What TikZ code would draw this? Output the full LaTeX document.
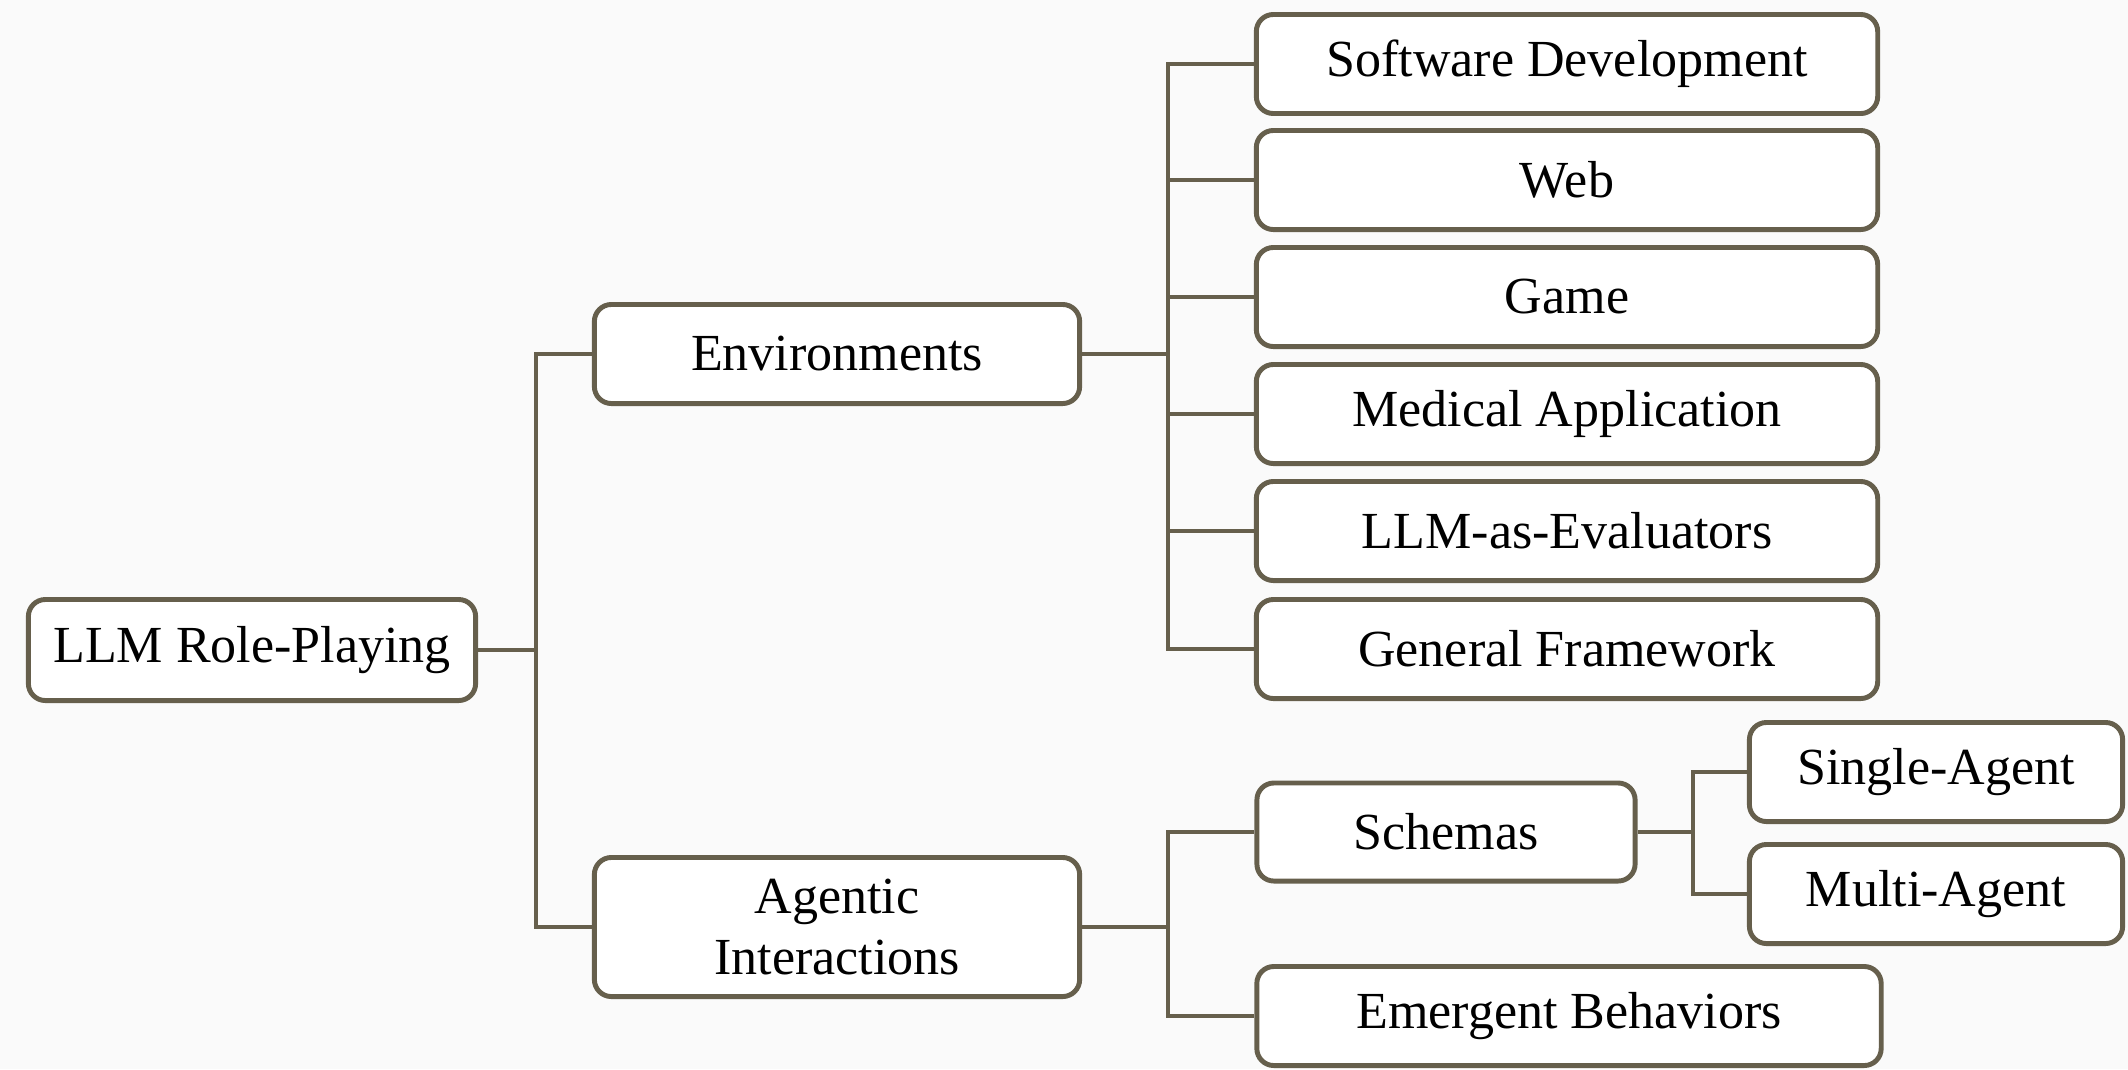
\documentclass[tikz,border=0pt]{standalone}
\usepackage{fontspec}
\setmainfont{Liberation Serif}
\definecolor{edge}{HTML}{665F4C}
\begin{document}
\begin{tikzpicture}[x=0.01cm,y=-0.01cm,
  box/.style={draw=edge, line width=1.4pt, rounded corners=0.17cm, fill=white,
    inner sep=0pt, align=center, font=\fontsize{14.8}{17.4}\selectfont},
  conn/.style={draw=edge, line width=1.4pt}]
\useasboundingbox (0,0) rectangle (2128,1069);
\fill[white!98!black] (0,0) rectangle (2128,1069);
% nodes
\node[box, minimum width=4.47cm, minimum height=1.01cm] (root) at (252,650) {LLM Role-Playing};
\node[box, minimum width=4.85cm, minimum height=0.99cm] (env) at (837,354) {Environments};
\node[box, minimum width=4.85cm, minimum height=1.39cm] (agt) at (837,927) {Agentic\\Interactions};
\node[box, minimum width=6.21cm, minimum height=0.99cm] (sd) at (1567,64) {Software Development};
\node[box, minimum width=6.21cm, minimum height=0.99cm] (web) at (1567,180) {Web};
\node[box, minimum width=6.21cm, minimum height=0.99cm] (game) at (1567,297) {Game};
\node[box, minimum width=6.21cm, minimum height=0.99cm] (med) at (1567,414) {Medical Application};
\node[box, minimum width=6.21cm, minimum height=0.99cm] (eval) at (1567,531) {LLM-as-Evaluators};
\node[box, minimum width=6.21cm, minimum height=0.99cm] (gen) at (1567,649) {General Framework};
\node[box, minimum width=3.78cm, minimum height=0.98cm] (sch) at (1446,832) {Schemas};
\node[box, minimum width=6.24cm, minimum height=0.99cm] (emb) at (1569,1016) {Emergent Behaviors};
\node[box, minimum width=3.73cm, minimum height=0.99cm] (single) at (1936,772) {Single-Agent};
\node[box, minimum width=3.73cm, minimum height=0.99cm] (multi) at (1936,894) {Multi-Agent};
% junctions
\coordinate (t) at (536,650);
\coordinate (e) at (1168,354);
\coordinate (a) at (1168,927);
\coordinate (s) at (1693,832);
% connectors
\draw[conn] (root.east) -- (t);
\draw[conn] (t) |- (env.west);
\draw[conn] (t) |- (agt.west);
\draw[conn] (env.east) -- (e);
\foreach \n in {sd,web,game,med,eval,gen} \draw[conn] (e) |- (\n.west);
\draw[conn] (agt.east) -- (a);
\draw[conn] (a) |- (sch.west);
\draw[conn] (a) |- (emb.west);
\draw[conn] (sch.east) -- (s);
\draw[conn] (s) |- (single.west);
\draw[conn] (s) |- (multi.west);
\end{tikzpicture}
\end{document}
